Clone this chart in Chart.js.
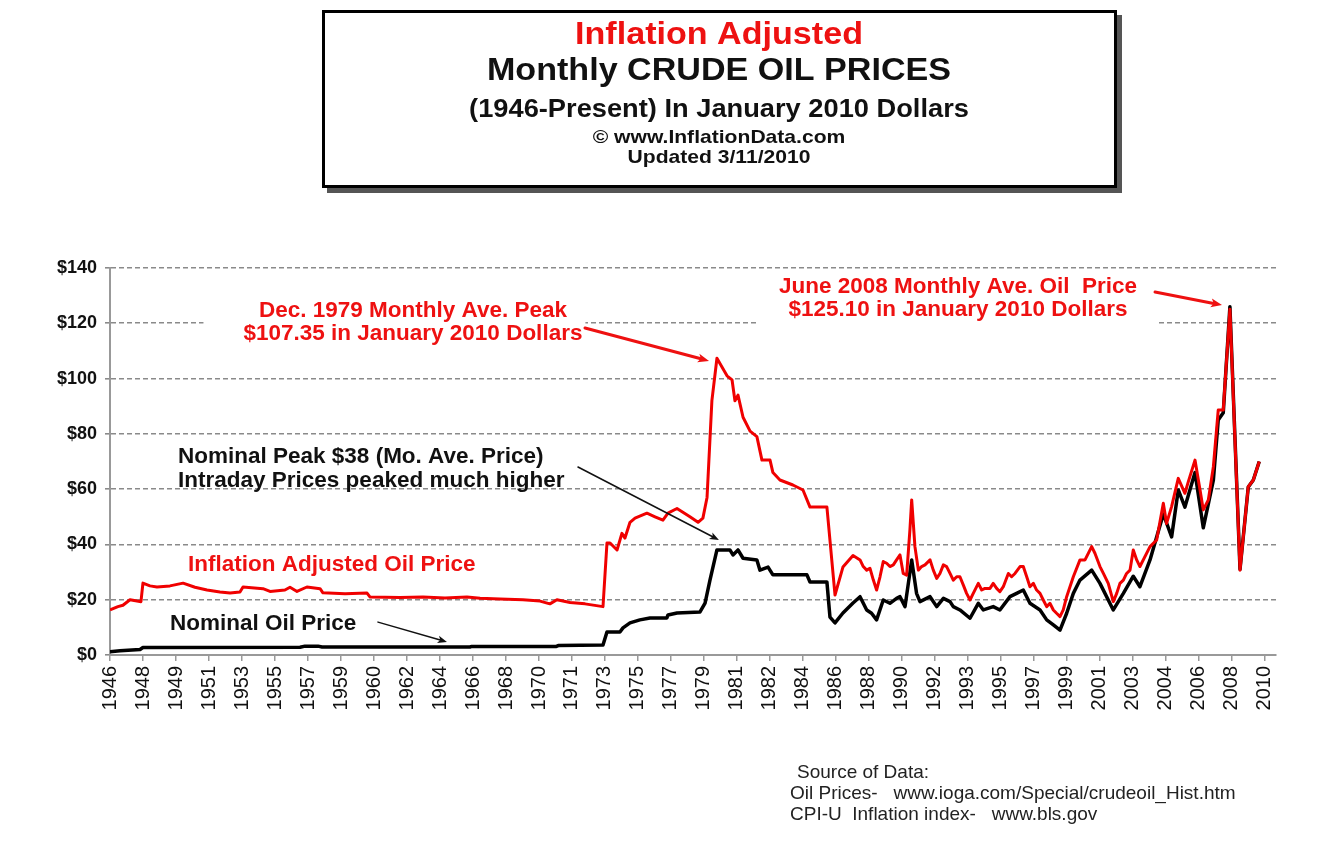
<!DOCTYPE html>
<html><head><meta charset="utf-8">
<script src="https://cdn.jsdelivr.net/npm/chart.js@4.4.1/dist/chart.umd.min.js"></script>
<style>html,body{margin:0;padding:0;background:#fff;}canvas{display:block;}</style>
</head><body>
<canvas id="c" width="1331" height="866"></canvas>
<script>
// ---------- DATA ----------
const tickLabels = ['1946','1948','1949','1951','1953','1955','1957','1959','1960','1962','1964','1966','1968','1970','1971','1973','1975','1977','1979','1981','1982','1984','1986','1988','1990','1992','1993','1995','1997','1999','2001','2003','2004','2006','2008','2010'];
const tickStepYears = 22/12;

const adjustedYears = [1946.00,1946.44,1946.72,1947.11,1947.5,1947.72,1947.83,1948.22,1948.61,1949.33,1950.06,1950.72,1951.39,1952.11,1952.67,1953.22,1953.39,1954.5,1954.89,1955.72,1956.0,1956.39,1956.94,1957.67,1957.83,1959.06,1960.28,1960.44,1962.11,1963.39,1964.61,1965.83,1966.56,1967.67,1968.94,1969.89,1970.44,1970.83,1971.56,1972.39,1973.39,1973.61,1973.78,1974.17,1974.44,1974.61,1974.89,1975.17,1975.83,1976.28,1976.72,1977.0,1977.5,1978.22,1978.67,1978.94,1979.17,1979.44,1979.72,1980.28,1980.56,1980.72,1980.89,1981.17,1981.56,1981.94,1982.22,1982.67,1982.83,1983.22,1983.94,1984.5,1984.89,1985.83,1986.28,1986.72,1987.28,
  1987.67,1987.85,1988.04,1988.22,1988.41,1988.59,1988.78,1988.96,1989.15,1989.33,1989.52,1989.70,1989.89,1990.07,1990.26,1990.44,1990.54,1990.72,1990.91,1991.09,1991.28,1991.56,1991.74,1991.93,1992.11,1992.30,1992.48,1992.67,1992.85,1993.04,1993.22,1993.41,1993.59,1993.78,1993.96,1994.24,1994.43,1994.61,1994.89,1995.07,1995.26,1995.44,1995.63,1995.91,1996.09,1996.28,1996.56,1996.74,1996.93,1997.11,1997.30,1997.48,1997.67,1997.85,1998.04,1998.22,1998.41,1998.59,1998.78,1998.96,1999.15,1999.52,1999.89,2000.17,2000.54,2000.72,2001.0,2001.19,2001.46,2001.74,2001.93,2002.11,2002.30,2002.48,2002.67,2002.85,2003.04,2003.22,
  2003.78,2004.15,2004.52,2004.70,2004.98,2005.35,2005.72,2005.91,2006.28,2006.56,2006.74,2007.02,2007.30,2007.57,2007.85,2008.22,2008.78,2009.24,2009.52,2009.85];
const adjustedPrice = [16.3,17.5,18,20,19.5,19.3,26,25,24.6,25,26,24.5,23.5,22.8,22.4,22.8,24.6,24,23,23.5,24.5,23,24.6,24,22.5,22.2,22.4,21,20.8,21,20.6,21,20.5,20.3,20,19.5,18.5,20,19,18.5,17.5,40.5,40.5,38,44,42.3,48,49.5,51.3,50,48.8,51.3,53,50,48,49.5,57,92,107.35,101,99.5,92,94,86,81,79,70.5,70.5,66,63.3,61.5,59.7,53.5,53.5,21.7,31.8,36,
  34.4,32.0,30.7,31.4,27.1,23.5,28.3,33.8,33.2,32.0,32.6,34.4,36.2,29.5,28.9,45.2,56.1,39.2,30.7,32.0,32.6,34.4,30.7,27.7,29.5,32.6,32.0,29.5,27.1,28.3,28.3,25.3,22.3,19.9,22.3,25.9,23.5,24.1,24.1,25.9,24.1,22.9,24.7,29.5,28.3,29.5,32.0,32.0,28.3,24.7,25.9,23.5,22.3,19.9,17.5,18.7,16.3,15.1,13.9,16.3,21.1,28.3,34.4,34.4,39.2,36.8,32.0,29.5,25.9,19.3,22.3,25.9,27.1,29.5,30.7,38.0,34.4,32.0,
  39.2,41.6,54.9,47.6,53.7,63.9,58.5,62.7,70.5,59.7,52.5,56.1,68.1,88.6,88.6,125.1,30.7,60.9,63.3,70.0];

const nominalYears = [1946.0,1946.56,1947.67,1947.83,1956.56,1956.83,1957.56,1957.78,1966.0,1966.1,1970.8,1970.9,1973.39,1973.61,1974.33,1974.5,1974.89,1975.44,1976.0,1976.94,1977.0,1977.5,1978.78,1979.06,1979.33,1979.72,1980.44,1980.61,1980.89,1981.17,1981.94,1982.11,1982.56,1982.83,1984.72,1984.89,1985.83,1986.0,1986.28,1986.72,1987.28,
  1987.67,1988.04,1988.31,1988.59,1988.96,1989.33,1989.70,1989.89,1990.17,1990.54,1990.81,1991.0,1991.56,1991.93,1992.30,1992.67,1992.85,1993.22,1993.78,1994.24,1994.52,1995.07,1995.44,1996.0,1996.37,1996.74,1997.11,1997.67,1998.04,1998.41,1998.78,1999.15,1999.52,1999.89,2000.54,2001.0,2001.74,2002.30,2002.85,2003.22,
  2003.78,2004.52,2004.98,2005.35,2005.72,2006.28,2006.74,2007.30,2007.57,2007.85,2008.22,2008.78,2009.24,2009.52,2009.85];
const nominalPrice = [1.2,1.5,2.0,2.7,2.8,3.2,3.2,2.9,2.9,3.1,3.1,3.4,3.6,8.3,8.3,9.8,11.6,12.7,13.4,13.4,14.5,15.2,15.6,18.8,27,38,38,36.2,38,35,34.4,30.7,31.8,29,29,26.4,26.4,13.7,11.6,15.2,18.8,
  21.1,16.3,15.1,12.7,19.9,18.7,20.5,21.1,17.5,34.4,22.3,19.3,21.1,17.5,20.5,19.3,17.5,16.3,13.3,18.7,16.3,17.5,16.3,21.1,22.3,23.5,18.7,16.3,12.7,10.9,9.0,15.1,22.3,27.1,30.7,25.9,16.3,22.3,28.5,24.7,
  34.4,51,42.7,59.7,53.5,66,46,63.3,85,87.6,126,31,60.8,63.3,70];

// ---------- STYLE ----------
const FF = '"Liberation Sans", Arial, Helvetica, sans-serif';
const RED = '#ee1111';

const titleLines = [
  {text:'Inflation Adjusted', y:35, size:31, sx:1.10, color:RED},
  {text:'Monthly CRUDE OIL PRICES', y:71, size:31, sx:1.10, color:'#111'},
  {text:'(1946-Present) In January 2010 Dollars', y:110, size:25, sx:1.09, color:'#111'},
  {text:'\u00A9 www.InflationData.com', y:138, size:19, sx:1.11, color:'#111'},
  {text:'Updated 3/11/2010', y:158, size:19, sx:1.11, color:'#111'}
];

const annotations = [
  {lines:['Dec. 1979 Monthly Ave. Peak','$107.35 in January 2010 Dollars'], x:1962.83, ys:[124.4,116.1], align:'center', color:RED, size:22.5, occlude:{l:40,r:3}},
  {lines:['June 2008 Monthly Ave. Oil  Price','$125.10 in January 2010 Dollars'], x:1993.11, ys:[133.1,124.8], align:'center', color:RED, size:22.5, occlude:{l:20,r:22}},
  {lines:['Nominal Peak $38 (Mo. Ave. Price)','Intraday Prices peaked much higher'], x:1949.78, ys:[71.6,62.9], align:'left', color:'#111', size:22.5},
  {lines:['Inflation Adjusted Oil Price'], x:1950.33, ys:[32.6], align:'left', color:RED, size:22.5},
  {lines:['Nominal Oil Price'], x:1949.33, ys:[11.2], align:'left', color:'#111', size:22.5}
];
const arrows = [
  {from:[1972.39,118.3], to:[1979.28,106.4], color:RED, width:3, head:12},
  {from:[2004.06,131.3], to:[2007.78,126.6], color:RED, width:3, head:12},
  {from:[1972.0,68.0], to:[1979.83,41.6], color:'#111', width:1.5, head:10},
  {from:[1960.89,11.9], to:[1964.72,4.7], color:'#111', width:1.5, head:10}
];

function drawArrow(c, x1,y1,x2,y2,color,w,head){
  const a = Math.atan2(y2-y1,x2-x1);
  c.save(); c.strokeStyle=color; c.fillStyle=color; c.lineWidth=w; c.lineCap='round';
  c.beginPath(); c.moveTo(x1,y1); c.lineTo(x2-Math.cos(a)*head*0.7,y2-Math.sin(a)*head*0.7); c.stroke();
  c.beginPath(); c.moveTo(x2,y2);
  c.lineTo(x2-head*Math.cos(a-0.38), y2-head*Math.sin(a-0.38));
  c.lineTo(x2-head*0.7*Math.cos(a), y2-head*0.7*Math.sin(a));
  c.lineTo(x2-head*Math.cos(a+0.38), y2-head*Math.sin(a+0.38));
  c.closePath(); c.fill(); c.restore();
}

const decor = {
  id:'decor',
  beforeDraw(chart){
    const c=chart.ctx; c.save(); c.fillStyle='#fff'; c.fillRect(0,0,chart.width,chart.height); c.restore();
  },
  beforeDatasetsDraw(chart){
    const c=chart.ctx, xs=chart.scales.x, ys=chart.scales.y;
    c.save(); c.fillStyle='#fff';
    annotations.forEach(an=>{
      if(!an.occlude) return;
      c.font = 'bold '+an.size+'px '+FF;
      const w = Math.max(...an.lines.map(l=>c.measureText(l).width));
      const cx = xs.getPixelForValue(an.x);
      const top = ys.getPixelForValue(an.ys[0]) - an.size*0.8;
      const bot = ys.getPixelForValue(an.ys[an.ys.length-1]) + an.size*0.8;
      const left = an.align==='center' ? cx-w/2 : cx;
      c.fillRect(left-an.occlude.l, top, w+an.occlude.l+an.occlude.r, bot-top);
    });
    c.restore();
  },
  afterDatasetsDraw(chart){
    const c=chart.ctx, xs=chart.scales.x, ys=chart.scales.y;
    c.save();
    annotations.forEach(an=>{
      c.font='bold '+an.size+'px '+FF; c.fillStyle=an.color; c.textAlign=an.align; c.textBaseline='middle';
      an.lines.forEach((l,i)=>c.fillText(l, xs.getPixelForValue(an.x), ys.getPixelForValue(an.ys[i])));
    });
    arrows.forEach(ar=>drawArrow(c, xs.getPixelForValue(ar.from[0]), ys.getPixelForValue(ar.from[1]),
      xs.getPixelForValue(ar.to[0]), ys.getPixelForValue(ar.to[1]), ar.color, ar.width, ar.head));
    c.restore();
  },
  afterDraw(chart){
    const c=chart.ctx;
    c.save();
    // title box with shadow
    c.fillStyle='#555'; c.fillRect(327,15,795,178);
    c.fillStyle='#fff'; c.fillRect(322,10,795,178);
    c.strokeStyle='#000'; c.lineWidth=3; c.strokeRect(323.5,11.5,792,175);
    c.textAlign='center'; c.textBaseline='middle';
    const cx=719;
    titleLines.forEach(t=>{
      c.save(); c.translate(cx,t.y); c.scale(t.sx,1);
      c.font='bold '+t.size+'px '+FF; c.fillStyle=t.color; c.fillText(t.text,0,0);
      c.restore();
    });
    // source text
    c.textAlign='left'; c.font='19px '+FF; c.fillStyle='#222';
    c.fillText('Source of Data:',797,773);
    c.fillText('Oil Prices-   www.ioga.com/Special/crudeoil_Hist.htm',790,794);
    c.fillText('CPI-U  Inflation index-   www.bls.gov',790,815);
    c.restore();
  }
};

new Chart(document.getElementById('c').getContext('2d'), {
  type:'line',
  data:{datasets:[
    {label:'Inflation Adjusted Oil Price', data:adjustedYears.map((y,i)=>({x:y,y:adjustedPrice[i]})),
     borderColor:'#f00000', borderWidth:3, pointRadius:0, tension:0, fill:false, borderJoinStyle:'round'},
    {label:'Nominal Oil Price', data:nominalYears.map((y,i)=>({x:y,y:nominalPrice[i]})),
     borderColor:'#000', borderWidth:3.5, pointRadius:0, tension:0, fill:false, borderJoinStyle:'round'}
  ]},
  options:{
    responsive:false, animation:false, devicePixelRatio:1,
    layout:{padding:{top:268,right:55,left:0,bottom:0}},
    plugins:{legend:{display:false}, tooltip:{enabled:false}},
    scales:{
      x:{type:'linear', min:1946, max:2010.78,
        afterBuildTicks:s=>{ s.ticks = tickLabels.map((l,i)=>({value:1946+i*tickStepYears})); },
        afterFit:s=>{ s.height = 211; },
        ticks:{autoSkip:false, maxRotation:90, minRotation:90, padding:5, color:'#111',
          font:{family:FF,size:20}, callback:(v,i)=>tickLabels[i]},
        grid:{drawOnChartArea:false, drawTicks:true, tickLength:6, color:'#999', lineWidth:1.5},
        border:{color:'#999', width:2}
      },
      y:{min:0, max:140,
        afterFit:s=>{ s.width = 110; },
        ticks:{stepSize:20, padding:8, color:'#111', font:{family:FF,size:18,weight:'bold'}, callback:v=>'$'+v},
        grid:{color:'#8a8a8a', lineWidth:1.6, tickLength:5, drawTicks:true},
        border:{color:'#999', width:2, dash:[5,3]}
      }
    }
  },
  plugins:[decor]
});
</script>
</body></html>
